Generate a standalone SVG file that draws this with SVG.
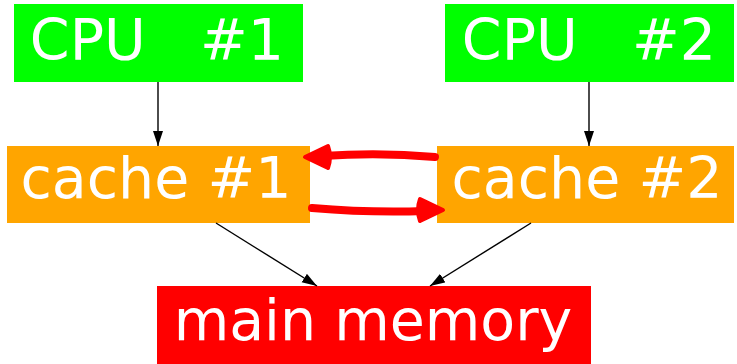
<svg xmlns="http://www.w3.org/2000/svg" width="737" height="364" viewBox="0 0 737 364">
<defs>
<style>
.lbl{font-family:"DejaVu Sans",sans-serif;font-size:57px;fill:#fff;text-anchor:middle;white-space:pre}
.thin{stroke:#000;stroke-width:1.4;fill:none}
.red{stroke:#f00;stroke-width:8;fill:none;stroke-linecap:round}
</style>
<marker id="ah" markerWidth="15" markerHeight="11" refX="15" refY="5.5" orient="auto" markerUnits="userSpaceOnUse">
<path d="M0,0.5 L15,5.5 L0,10.5 Z" fill="#000"/>
</marker>
</defs>
<rect width="737" height="364" fill="#fff"/>
<g id="cpu1"><rect x="14" y="4" width="289" height="78" fill="#00ff00"/><text class="lbl" x="157" y="60" xml:space="preserve">CPU   #1</text></g>
<g id="cpu2"><rect x="445" y="4" width="289" height="78" fill="#00ff00"/><text class="lbl" x="589" y="60" xml:space="preserve">CPU   #2</text></g>
<g id="cache1"><rect x="7" y="146" width="303" height="77" fill="#ffa500"/><text class="lbl" x="156" y="198">cache #1</text></g>
<g id="cache2"><rect x="437" y="146" width="297" height="77" fill="#ffa500"/><text class="lbl" x="587" y="198">cache #2</text></g>
<g id="mem"><rect x="157" y="286" width="434" height="78" fill="#ff0000"/><text class="lbl" x="373" y="340">main memory</text></g>
<g id="connectors">
<path class="thin" d="M158,82 L158,146" marker-end="url(#ah)"/>
<path class="thin" d="M589,82 L589,146" marker-end="url(#ah)"/>
<path class="thin" d="M216,223 L317,286" marker-end="url(#ah)"/>
<path class="thin" d="M531,223 L430,286" marker-end="url(#ah)"/>
<path class="red" d="M435,157 Q380,152 322,156"/>
<path d="M305,157 L328,146 Q332,157 328,168 Z" fill="#f00" stroke="#f00" stroke-width="4" stroke-linejoin="round"/>
<path class="red" d="M312,208 Q370,213 425,211"/>
<path d="M443,210 L420,199 Q416,210 420,221 Z" fill="#f00" stroke="#f00" stroke-width="4" stroke-linejoin="round"/>
</g>
</svg>
